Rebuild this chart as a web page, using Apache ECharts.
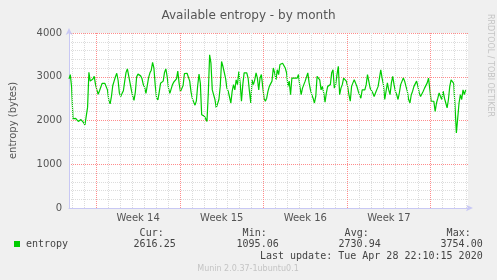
<!DOCTYPE html>
<html><head><meta charset="utf-8">
<script src="https://cdn.jsdelivr.net/npm/echarts@6/dist/echarts.min.js"></script>
<style>html,body{margin:0;padding:0;background:#f0f0f0}#c{width:497px;height:280px}</style>
</head><body><div id="c"></div>
<script>
// Time axis in hours from left edge of plot; samples every 8/3 hours
const sampleStepHours = 8 / 3;
const axisSpanHours = 802;
const firstWeekBoundary = 55; // hours from left edge to first Monday 00:00
const weekLabels = ['Week 14', 'Week 15', 'Week 16', 'Week 17'];
const entropyPart1 = [2950,3050,2750,2040,2010,2050,2060,1980,1960,2020,1980,1950,1900,1870,2300,3100,2900,2880,2950,3010,2820,2700,2600,2680,2720,2850,2880,2850,2880,2700,2460,2380,2550,2800,2900,3000,3080,2920,2620,2550,2620,2680,2900,3100,3180,3220,2860,2700,2560,2460,2650,3000,3060,3040,3020,2960,2820,2760,2620,2650,2980,3090,3150,3330,3200,2800,2520,2470,2650,2850,2860,2900,3100,3180,3000,2740,2620,2620];
const entropyPart2 = [2820,2880,2840,2950,3130,2850,2660,2620,2800,3070,3080,3080,3060,2900,2650,2500,2420,2350,2450,2800,3060,2850,2130,2130,2100,2090,1980,2630,3500,3310,2700,2720,2480,2290,2250,2480,2780,3350,3240,3280,2970,2740,2670,2630,2400,2670,2820,2700,2930,2820,3120,2860,2440,2820,3090,3050,3090,2970,2670,2400,2930,2820,2930,3090,2970,2700,2970,3050,2780,2510,2440,2510,2670,2780,2820,2900,3200,3090,2930,3160,3050,3280,3310,3310,3350,3200,3090,2780,2900,2590,2970,2930,2970,3010,2970,3050,2780,2590,2740,2820,2900,2930,3090,2860,2700,2590,2510,2400,2550,3010,3050,2930,2700,2780,2630,2420,2630,2780,2820,2820];
const entropyPart3 = [3090,3160,2740,2820,3050,3240,2590,2740,2820,2970,2930,2900,2780,2590,2440,2780,2860,2930,2970,2780,2670,2590,2510,2700,2740,2700,2820,3050,3010,2740,2700,2630,2550,2630,2670,2780,2970,3160,2970,2820,2480,2670,2860,2700,2590,2860,3010,2820,2670,2590,2480,2630,2820,2860,2970,2900,2780,2670,2480,2400,2590,2670,2780,2820,2900,2780,2630,2550,2590,2670,2740,2700,2860,2970,3000,2440,2480,2440,2210,2400,2510,2630,2550,2480,2670,2510,2400,2290,2480,2780,2930,2970,2850,2300,1715,1680,2400,2590,2480,2700,2590,2700];
const statHeaders = ['Cur:', 'Min:', 'Avg:', 'Max:'];
const statValues = ['2616.25', '1095.06', '2730.94', '3754.00'];
const lastUpdate = 'Last update: Tue Apr 28 22:10:15 2020';

const entropy = entropyPart1.concat(entropyPart2, entropyPart3);
const seriesData = entropy.map((v, i) => [i * sampleStepHours, v]);

const weekLines = [], dayLines = [], weekMids = [];
for (let k = -2; firstWeekBoundary + 24 * k <= axisSpanHours; k++) {
  const t = firstWeekBoundary + 24 * k;
  if (t < 1) continue;
  (((k % 7) + 7) % 7 === 0 ? weekLines : dayLines).push({xAxis: t});
}
weekLabels.forEach((l, i) => weekMids.push(firstWeekBoundary + 84 + 168 * i));

const majorColor = '#ff8c8c', minorColor = '#dcdcdc', axisColor = '#c8c8f4';
const mono = 'DejaVu Sans Mono', sans = 'DejaVu Sans';

const graphics = [
  {type:'text', x:490, y:14, rotation:-Math.PI/2, style:{text:'RRDTOOL / TOBI OETIKER', fill:'#c4c4c4', font:'8px ' + sans, textAlign:'left', textVerticalAlign:'middle'}},
  {type:'rect', shape:{x:14, y:241, width:6, height:6}, style:{fill:'#00cc00'}},
  {type:'text', x:26, y:244, style:{text:'entropy', fill:'#444', font:'10px ' + mono, textAlign:'left', textVerticalAlign:'middle'}},
  {type:'text', x:482.7, y:256.7, style:{text:lastUpdate, fill:'#444', font:'10px ' + mono, textAlign:'right', textVerticalAlign:'middle'}},
  {type:'text', x:248, y:269, style:{text:'Munin 2.0.37-1ubuntu0.1', fill:'#c4c4c4', font:'8px ' + sans, textAlign:'center', textVerticalAlign:'middle'}}
];
const valueRight = [175.7, 278.7, 380.7, 482.7];
statHeaders.forEach((h, i) => {
  graphics.push({type:'text', x:valueRight[i] - 12, y:233, style:{text:h, fill:'#444', font:'10px ' + mono, textAlign:'right', textVerticalAlign:'middle'}});
  graphics.push({type:'text', x:valueRight[i], y:244, style:{text:statValues[i], fill:'#444', font:'10px ' + mono, textAlign:'right', textVerticalAlign:'middle'}});
});

const chart = echarts.init(document.getElementById('c'), null, {renderer:'canvas'});
chart.setOption({
  backgroundColor:'#f0f0f0',
  animation:false,
  title:{text:'Available entropy - by month', left:'center', top:5, textStyle:{fontFamily:sans, fontSize:12, fontWeight:'normal', color:'#555'}},
  grid:{left:67, top:33, width:401, height:175, show:true, backgroundColor:'#fff', borderWidth:0},
  xAxis:{type:'value', min:0, max:axisSpanHours,
    axisLine:{show:true, lineStyle:{color:axisColor}, symbol:['none','arrow'], symbolSize:[5,7], symbolOffset:[0,5]},
    axisTick:{show:false},
    axisLabel:{customValues:weekMids, margin:5, fontFamily:sans, fontSize:10, color:'#555',
      formatter:(v) => weekLabels[Math.round((v - firstWeekBoundary - 84) / 168)] || ''},
    splitLine:{show:false}},
  yAxis:{type:'value', min:0, max:4000, interval:1000,
    name:'entropy (bytes)', nameLocation:'middle', nameGap:51, nameRotate:90,
    nameTextStyle:{fontFamily:sans, fontSize:10, color:'#555'},
    axisLine:{show:true, lineStyle:{color:axisColor}, symbol:['none','arrow'], symbolSize:[5,7], symbolOffset:[0,5]},
    axisTick:{show:false},
    axisLabel:{margin:7, fontFamily:sans, fontSize:10, color:'#555', formatter:(v) => String(v)},
    splitLine:{show:true, lineStyle:{color:majorColor, type:[1,1], width:1}},
    minorTick:{show:false, splitNumber:5},
    minorSplitLine:{show:true, lineStyle:{color:minorColor, type:[1,1], width:1}}},
  graphic:graphics,
  series:[
    {type:'line', data:[], z:1, silent:true, color:minorColor,
      markLine:{silent:true, symbol:['none','none'], label:{show:false}, animation:false,
        lineStyle:{color:minorColor, type:[1,1], width:1}, emphasis:{disabled:true}, data:dayLines}},
    {type:'line', data:[], z:2, silent:true, color:majorColor,
      markLine:{silent:true, symbol:['none','none'], label:{show:false}, animation:false,
        lineStyle:{color:majorColor, type:[1,1], width:1}, emphasis:{disabled:true}, data:weekLines}},
    {type:'line', data:seriesData, z:3, showSymbol:false, symbol:'none', color:'#00cc00',
      lineStyle:{color:'#00cc00', width:1.2}, itemStyle:{color:'#00cc00'}}
  ]
});
</script></body></html>
